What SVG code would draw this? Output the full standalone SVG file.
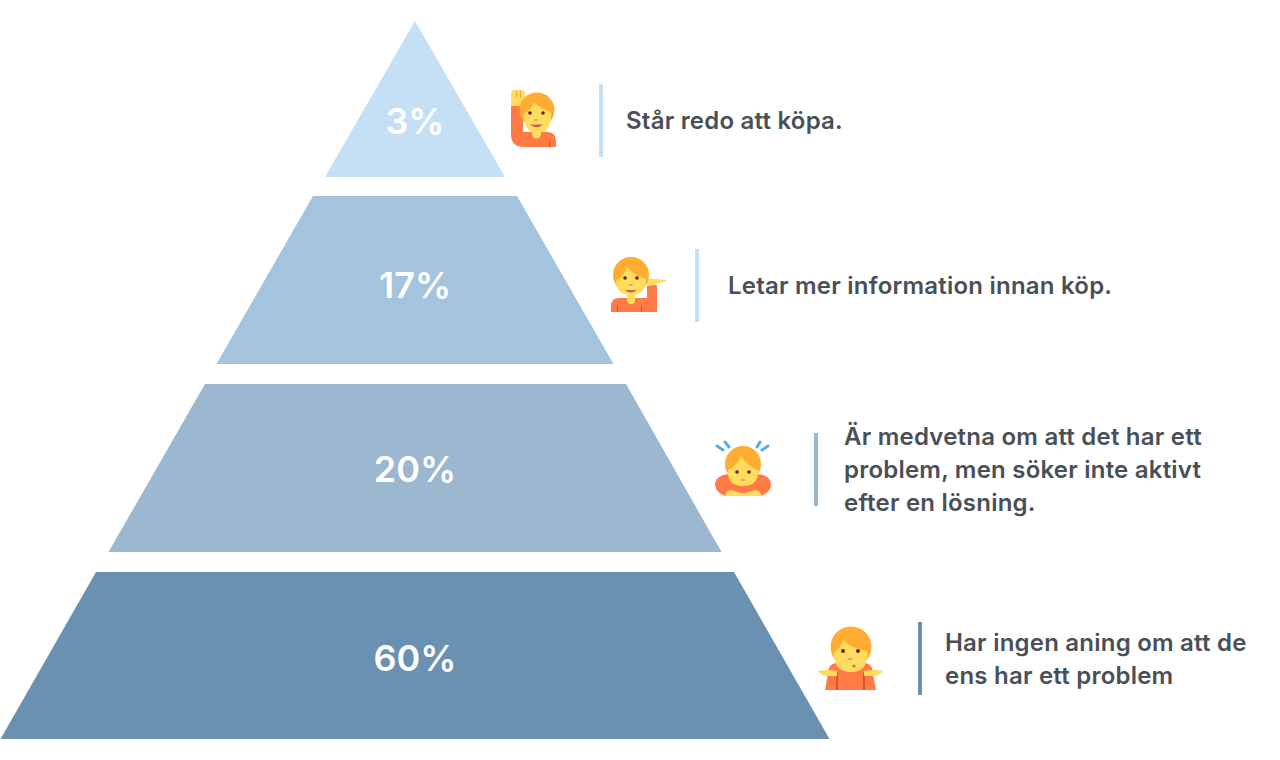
<svg xmlns="http://www.w3.org/2000/svg" width="1280" height="760" viewBox="0 0 1280 760">
<style>
.pct{font-family:Inter,"Liberation Sans",sans-serif;font-weight:600;font-size:36px;fill:#fff;text-anchor:middle}
.lbl{font-family:Inter,"Liberation Sans",sans-serif;font-weight:600;font-size:24px;letter-spacing:.22px;fill:#4a4f57}
.hair{fill:#ffac33}.skin{fill:#ffdc5d}.shirt{fill:#ff7a45}.dk{fill:#d9531e}.eye{fill:#662113}.nose{fill:#d99e82}.mouth{fill:#c1694f}.spark{stroke:#55acee;stroke-width:3;stroke-linecap:round;fill:none}
</style>
<rect width="1280" height="760" fill="#fff"/>
<g id="tier-3">
<polygon points="415,21 505,177 325,177" fill="#c5dff5"/>
<text class="pct" x="415" y="134">3%</text>
</g>
<g id="tier-17">
<polygon points="313,196 517,196 613.500,364 216.500,364" fill="#a4c3dc"/>
<text class="pct" x="415" y="298">17%</text>
</g>
<g id="tier-20">
<polygon points="205,384 626,384 721.500,552 108.500,552" fill="#9bb8d0"/>
<text class="pct" x="415" y="482">20%</text>
</g>
<g id="tier-60">
<polygon points="96,572 734,572 829.500,739 .5,739" fill="#6a91b1"/>
<text class="pct" x="415" y="671">60%</text>
</g>
<g id="person-1">
<path class="shirt" d="M511 104H523V132H547Q556 132 556 141V147H524Q511 147 511 134Z"/>
<path class="dk" d="M549 141h1v6h-1z"/>
<path class="skin" d="M511 94Q511 90 515 90H521Q525 90 525 94V100Q525 105 521 106H511Z"/>
<path class="dk" d="M516 91h1v7h-1zM520 91h1v7h-1z" opacity=".4"/>
<circle class="hair" cx="537" cy="110" r="17.500"/>
<path class="skin" d="M532 125h9v9a4.500 4.500 0 0 1-9 0z"/>
<path class="skin" d="M524 114Q531 110 534 102Q541 109 551 112Q552 133 537 133Q524 133 524 114Z"/>
<circle class="eye" cx="530" cy="113" r="1.800"/><circle class="eye" cx="543" cy="113" r="1.800"/>
<ellipse class="nose" cx="536" cy="120" rx="2.200" ry="1"/>
<path class="mouth" d="M530 124.500H543Q537 130 530 124.500Z"/>
</g>
<rect id="bar-1" x="599" y="84" width="4" height="73" fill="#c5dff5"/>
<text id="text-1" class="lbl" x="626" y="129">Står redo att köpa.</text>
<g id="person-2">
<path class="shirt" d="M611 312V306Q611 298 619 298H647V285H657V312Z"/>
<path class="dk" d="M617 306h1v6h-1zM641 306h1v6h-1z"/>
<path class="skin" d="M647 279Q655 278 667 280.500Q666 282 659 283L650 286H647Z"/>
<circle class="hair" cx="631" cy="275" r="18"/>
<path class="skin" d="M627 290h8v10a4 4 0 0 1-8 0z"/>
<path class="skin" d="M616 281Q624 276 627 267Q634 276 646 279Q646 295 631 295Q616 295 616 281Z"/>
<circle class="eye" cx="625" cy="278" r="1.800"/><circle class="eye" cx="637" cy="278" r="1.800"/>
<ellipse class="nose" cx="631" cy="285" rx="2.200" ry="1"/>
<path class="mouth" d="M625 290H637Q631 295 625 290Z"/>
</g>
<rect id="bar-2" x="695" y="249" width="4" height="73" fill="#c5dff5"/>
<text id="text-2" class="lbl" x="728" y="294">Letar mer information innan köp.</text>
<g id="person-3">
<path class="spark" d="M717 446L723 450M725 442L729 447M768 446L762 450M760 442L757 447"/>
<path class="shirt" d="M725 496Q715 492 715 484Q716 475 729 474H757Q770 475 771 484Q771 492 761 496Z"/>
<path class="skin" d="M725 496Q726 490 731 490L741 493H745L755 490Q760 490 762 496Z"/>
<circle class="hair" cx="743" cy="464" r="18"/>
<path class="skin" d="M728 470Q737 466 741 456Q747 466 758 470Q759 486 743 486Q727 486 728 470Z"/>
<circle class="eye" cx="737" cy="472" r="1.800"/><circle class="eye" cx="749" cy="472" r="1.800"/>
<ellipse class="nose" cx="743" cy="480" rx="2.500" ry="1"/>
</g>
<rect id="bar-3" x="814" y="433" width="4" height="73" fill="#9bb8d0"/>
<text id="text-3" class="lbl"><tspan x="844" y="445">Är medvetna om att det har ett</tspan><tspan x="844" y="478">problem, men söker inte aktivt</tspan><tspan x="844" y="511">efter en lösning.</tspan></text>
<g id="person-4">
<path class="shirt" d="M825 690L829 668Q831 663 838 663H863Q870 663 872 668L876 690Z"/>
<path class="dk" d="M836 673h2v17h-2zM863 673h2v17h-2z"/>
<path class="skin" d="M818 671Q826 669 837 671V676H828Q821 676 818 671ZM883 671Q875 669 864 671V676H873Q880 676 883 671Z"/>
<circle class="hair" cx="851" cy="647" r="20.500"/>
<path class="skin" d="M834 652Q840 649 843 640Q851 648 867 651Q869 672 851 672Q833 672 834 652Z"/>
<circle class="eye" cx="843" cy="651" r="2"/><circle class="eye" cx="858" cy="651" r="2"/>
<ellipse class="nose" cx="850" cy="659" rx="3" ry="1"/>
<circle class="mouth" cx="854" cy="666" r="1.500"/>
</g>
<rect id="bar-4" x="918" y="622" width="4" height="73" fill="#6a91b1"/>
<text id="text-4" class="lbl"><tspan x="945" y="651">Har ingen aning om att de</tspan><tspan x="945" y="684">ens har ett problem</tspan></text>
</svg>
